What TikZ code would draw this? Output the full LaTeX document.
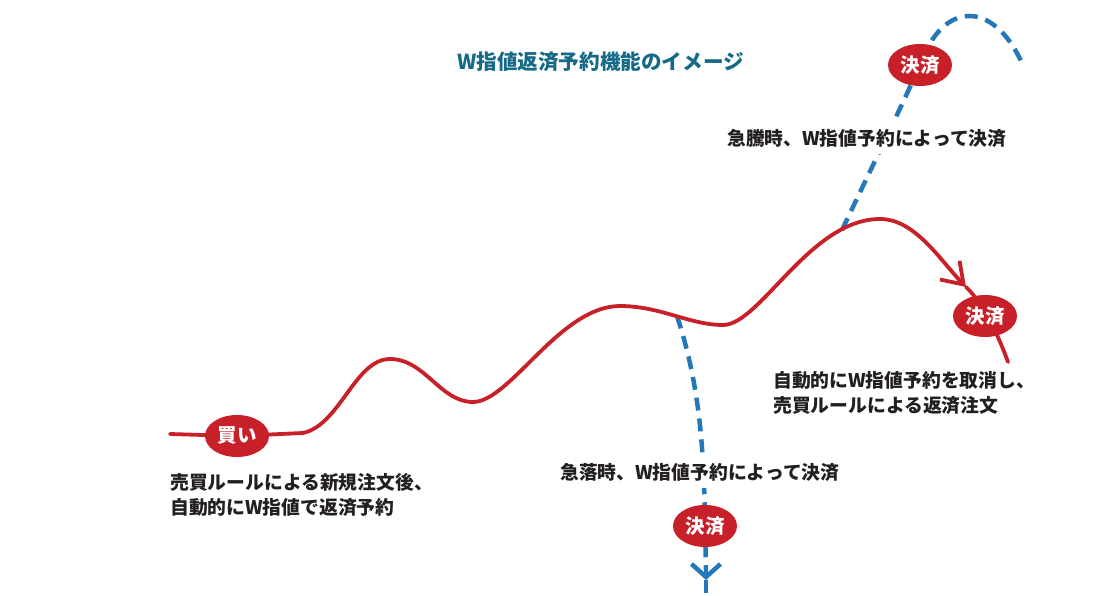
\documentclass[tikz,border=0pt]{standalone}
\usepackage{fontspec}
\newfontfamily\jpfont{Noto Sans CJK JP}
\usetikzlibrary{arrows.meta}
\definecolor{cred}{RGB}{200,32,40}
\definecolor{cblue}{RGB}{36,120,184}
\definecolor{cteal}{RGB}{22,106,136}
\definecolor{ctext}{RGB}{35,31,32}
\tikzset{
  redline/.style={draw=cred,line width=3.8pt,line cap=round},
  blueline/.style={draw=cblue,line width=4.5pt,dash pattern=on 13pt off 8pt},
  badge/.style={ellipse,fill=cred,minimum width=64pt,minimum height=42pt,inner sep=0pt,
    text=white,font=\jpfont\bfseries\fontsize{19.5}{22}\selectfont},
  lbl/.style={text=ctext,align=left,inner sep=0pt,font=\jpfont\bfseries\fontsize{18.8}{25.5}\selectfont},
  lblw/.style={lbl,fill=white,inner xsep=2pt,inner ysep=7pt},
  redtip/.style={-{Straight Barb[length=20pt,width=27pt]}},
  bluetip/.style={-{Straight Barb[length=13pt,width=29pt]}},
}
\usetikzlibrary{shapes.geometric}
\begin{document}
\begin{tikzpicture}[x=1pt,y=-1pt]
\useasboundingbox (0,0) rectangle (1098,596);
% coordinates
\coordinate (start) at (170,434);
\coordinate (buyc) at (237,436);
\coordinate (flat) at (303,433);
\coordinate (b1) at (677,316);
\coordinate (b2) at (842,230);
\coordinate (rtip) at (966,287);
\coordinate (rend) at (1008,362);
\coordinate (s1c) at (920,65);
\coordinate (s2c) at (985,316);
\coordinate (s3c) at (705,526);
\coordinate (bpre) at (706,570);
\coordinate (btip) at (706,580);
\coordinate (bend) at (706,593);
\coordinate (tend) at (1022,63);
% blue dashed lines
\draw[blueline] (b1) .. controls (698,380) and (704,440) .. (s3c) -- (bpre);
\draw[draw=cblue,line width=4.5pt,bluetip] (bpre) -- (btip);
\draw[draw=cblue,line width=4.5pt] (btip) -- (bend);
\draw[blueline] (b2) .. controls (868,175) and (900,110) .. (s1c) .. controls (942,2) and (992,-2) .. (tend);
% red curve
\draw[redline] (start) -- (buyc) -- (flat);
\draw[redline,redtip] (flat) .. controls (340,425) and (355,359) .. (390,359)
  .. controls (425,359) and (440,402) .. (473,402)
  .. controls (510,402) and (560,306) .. (620,306)
  .. controls (660,306) and (690,325) .. (723,325)
  .. controls (760,325) and (810,219) .. (880,219)
  .. controls (915,219) and (940,260) .. (rtip);
\draw[redline] (rtip) .. controls (985,305) and (1000,340) .. (rend);
% badges
\node[badge] (buy) at (buyc) {買い};
\node[badge] (s1) at (s1c) {決済};
\node[badge] (s2) at (s2c) {決済};
\node[badge] (s3) at (s3c) {決済};
% texts
\node[anchor=west,text=cteal,inner sep=0pt,font=\jpfont\bfseries\fontsize{20.6}{24}\selectfont] (title) at (457,62) {W指値返済予約機能のイメージ};
\node[lblw,anchor=west] (up) at (725,138) {急騰時、W指値予約によって決済};
\node[lblw,anchor=west] (down) at (558,472) {急落時、W指値予約によって決済};
\node[lbl,anchor=west] (left) at (170,495) {売買ルールによる新規注文後、\\自動的にW指値で返済予約};
\node[lbl,anchor=west] (right) at (773,393) {自動的にW指値予約を取消し、\\売買ルールによる返済注文};
\end{tikzpicture}
\end{document}
